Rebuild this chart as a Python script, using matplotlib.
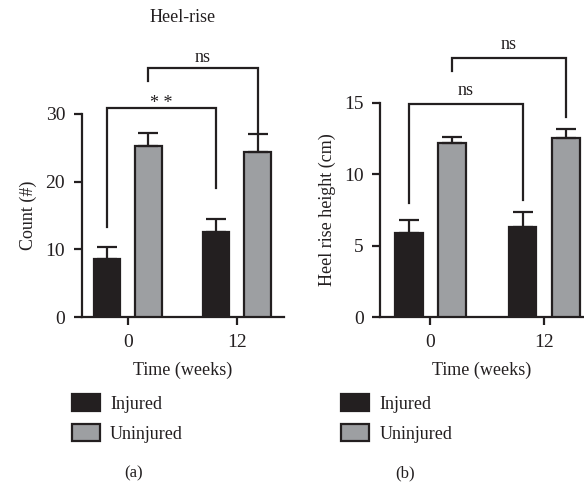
import matplotlib
matplotlib.use("Agg")
import matplotlib.pyplot as plt
import numpy as np
from matplotlib.patches import Patch

plt.rcParams["font.family"] = ["Liberation Serif", "DejaVu Serif"]

# ── data ──────────────────────────────────────────────────────────────────────
weeks = ["0", "12"]
groups = ["Injured", "Uninjured"]

count_injured = [8.6, 12.6]
count_injured_err = [1.7, 1.9]
count_uninjured = [25.3, 24.4]
count_uninjured_err = [1.9, 2.6]

height_injured = [5.9, 6.3]
height_injured_err = [0.9, 1.05]
height_uninjured = [12.2, 12.5]
height_uninjured_err = [0.4, 0.65]

# brackets: (x1, x2, y_bar, y_left_end, y_right_end, label)
count_brackets = [
    (-0.19, 0.81, 30.9, 13.3, 19.0, "* *"),
    (0.19, 1.19, 36.8, 34.9, 27.2, "ns"),
]
height_brackets = [
    (-0.19, 0.81, 14.9, 8.0, 8.2, "ns"),
    (0.19, 1.19, 18.1, 17.2, 14.0, "ns"),
]

INK = "#231f20"
GREY = "#9d9fa2"
FS = 13


def draw_panel(ax, inj, inj_err, uninj, uninj_err, ymax, yticks, ylabel, brackets,
               xlim, gaps):
    x = np.arange(len(weeks))
    off, w = 0.19, 0.245
    kw = dict(edgecolor=INK, linewidth=1.6, width=w, zorder=3)
    ekw = dict(elinewidth=1.6, capthick=1.6, ecolor=INK)
    ax.bar(x - off, inj, color=INK, yerr=[np.zeros(2), inj_err], capsize=7,
           error_kw=ekw, **kw)
    ax.bar(x + off, uninj, color=GREY, yerr=[np.zeros(2), uninj_err], capsize=7,
           error_kw=ekw, **kw)

    ax.set_xlim(*xlim)
    ax.set_ylim(0, ymax)
    ax.set_yticks(yticks)
    ax.set_xticks(x)
    ax.set_xticklabels(weeks)
    for s in ("top", "right"):
        ax.spines[s].set_visible(False)
    for s in ("left", "bottom"):
        ax.spines[s].set_linewidth(1.6)
        ax.spines[s].set_color(INK)
    ax.tick_params(width=1.6, length=6, labelsize=14, colors=INK, pad=6)
    ax.set_xlabel("Time (weeks)", fontsize=FS, color=INK, labelpad=8)
    ax.set_ylabel(ylabel, fontsize=FS, color=INK, labelpad=6)

    for (x1, x2, yb, yl, yr, lab), gap in zip(brackets, gaps):
        ax.plot([x1, x1, x2, x2], [yl, yb, yb, yr], color=INK, lw=1.6,
                clip_on=False, solid_joinstyle="miter")
        ax.annotate(lab, ((x1 + x2) / 2, yb), xytext=(0, gap),
                    textcoords="offset points", ha="center", va="bottom",
                    fontsize=FS, color=INK, annotation_clip=False)


fig = plt.figure(figsize=(5.84, 4.87), dpi=100)
ax_a = fig.add_axes([0.140, 0.349, 0.346, 0.417])
ax_b = fig.add_axes([0.651, 0.349, 0.349, 0.440])

draw_panel(ax_a, count_injured, count_injured_err, count_uninjured, count_uninjured_err,
           30, [0, 10, 20, 30], "Count (#)", count_brackets, (-0.42, 1.43), (-3, 1.5))
draw_panel(ax_b, height_injured, height_injured_err, height_uninjured, height_uninjured_err,
           15, [0, 5, 10, 15], "Heel rise height (cm)", height_brackets, (-0.44, 1.35),
           (4, 4))

fig.text(0.313, 0.965, "Heel-rise", ha="center", va="center", fontsize=FS, color=INK)

handles = [Patch(facecolor=INK, edgecolor=INK, linewidth=1.6),
           Patch(facecolor=GREY, edgecolor=INK, linewidth=1.6)]
for xl in (0.111, 0.572):
    fig.legend(handles, groups, loc="upper left", bbox_to_anchor=(xl, 0.205),
               frameon=False, fontsize=FS, handlelength=1.55, handleheight=1.0,
               handletextpad=0.55, labelspacing=0.65, borderaxespad=0,
               labelcolor=INK)

fig.text(0.228, 0.028, "(a)", ha="center", va="center", fontsize=FS - 1, color=INK)
fig.text(0.694, 0.028, "(b)", ha="center", va="center", fontsize=FS - 1, color=INK)

fig.savefig("out.png", dpi=100)
